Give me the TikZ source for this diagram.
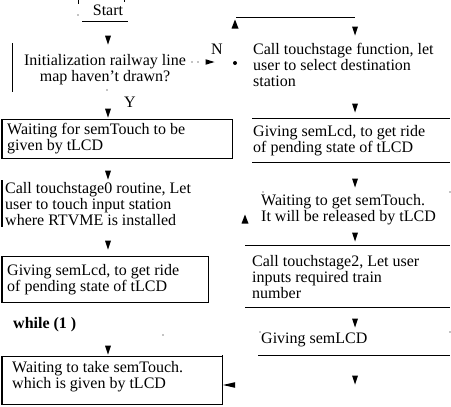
\documentclass[tikz,border=0pt]{standalone}
\usepackage{fontspec}
\setmainfont{Liberation Serif}
\begin{document}
\begin{tikzpicture}[x=1pt,y=-1pt,
  txt/.style={anchor=west,inner sep=0pt,align=left,font=\fontsize{16}{16}\selectfont},
  ln/.style={line width=1pt},
  speck/.style={line width=0.8pt},
  tipd/.pic={\fill (-3,-4.5) -- (3,-4.5) -- (0,4.5) -- cycle;},
  tipu/.pic={\fill (-3.5,4.5) -- (3.5,4.5) -- (0,-4.5) -- cycle;},
  tipr/.pic={\fill (-4.5,-2.8) -- (-4.5,2.8) -- (4.5,0) -- cycle;},
  tipl/.pic={\fill (6,-2.8) -- (6,2.8) -- (-6,0) -- cycle;}
]
\useasboundingbox (0,0) rectangle (451,407);

% ---------- left column ----------
\node[txt,anchor=center] (start) at (108,10) {Start};
\draw[ln] (82,21) -- (128,21);
\draw[speck] (78,0) -- (78,4);
\fill (78,15) circle (0.6);
\draw[speck] (124,0) -- (124,2);
\pic at (108,40) {tipd};

\draw[ln] (12,43) -- (12,92);
\node[txt,anchor=center,align=center] (init) at (105,70)
  {Initialization railway line\\map haven't drawn?};
\fill (192,62) circle (0.6);
\fill (198,62) circle (0.6);
\pic at (210,62) {tipr};
\node[txt,anchor=center] (N) at (217,49) {N};
\fill (235,63) circle (2);
\fill (107,90) circle (0.6);
\node[txt,anchor=center] (Y) at (130,102) {Y};
\pic at (108,113) {tipd};

\draw[ln] (2,119) rectangle (232,158);
\node[txt] (wait1) at (7,138.5) {Waiting for semTouch to be\\given by tLCD};
\pic at (108,175) {tipd};

\draw[ln] (2,180) -- (2,227);
\node[txt] (call0) at (5,204) {Call touchstage0 routine, Let\\user to touch input station\\where RTVME is installed};
\pic at (108,245) {tipd};

\draw[ln] (2,256) rectangle (208,302);
\node[txt] (give1) at (7,280) {Giving semLcd, to get ride\\of pending state of tLCD};

\node[txt,font=\fontsize{16}{16}\selectfont\bfseries] (while) at (13,325) {while (1 )};
\fill (163,335) circle (0.6);
\pic at (108,350) {tipd};

\draw[ln] (2,356) rectangle (222,404);
\node[txt] (wait2) at (12,376.5) {Waiting to take semTouch.\\which is given by tLCD};
\pic at (229,385) {tipl};

% ---------- right column ----------
\pic at (235,24) {tipu};
\draw[ln] (236,17) -- (355,17);
\pic at (355,31) {tipd};
\node[txt] (call1) at (253,64.5) {Call touchstage function, let\\user to select destination\\station};
\pic at (355,108) {tipd};
\draw[ln] (252,118) -- (450,118);
\node[txt] (give2) at (253,140.5) {Giving semLcd, to get ride\\of pending state of tLCD};
\draw[ln] (252,162) -- (450,162);
\pic at (355,183) {tipd};
\fill (263,192) circle (0.6);
\fill (450,192) circle (0.6);
\node[txt] (wait3) at (261,210) {Waiting to get semTouch.\\It will be released by tLCD};
\pic at (245,219) {tipu};
\pic at (355,237) {tipd};
\draw[ln] (245,245) -- (450,245);
\node[txt] (call2) at (252,277) {Call touchstage2, Let user\\inputs required train\\number};
\draw[ln] (245,307) -- (450,307);
\pic at (355,323) {tipd};
\fill (260,332) circle (0.6);
\fill (450,332) circle (0.6);
\node[txt] (give3) at (261,340) {Giving semLCD};
\draw[ln] (258,355) -- (450,355);
\pic at (355,380) {tipd};
\draw[ln] (222,355) -- (222,404);
\end{tikzpicture}
\end{document}
